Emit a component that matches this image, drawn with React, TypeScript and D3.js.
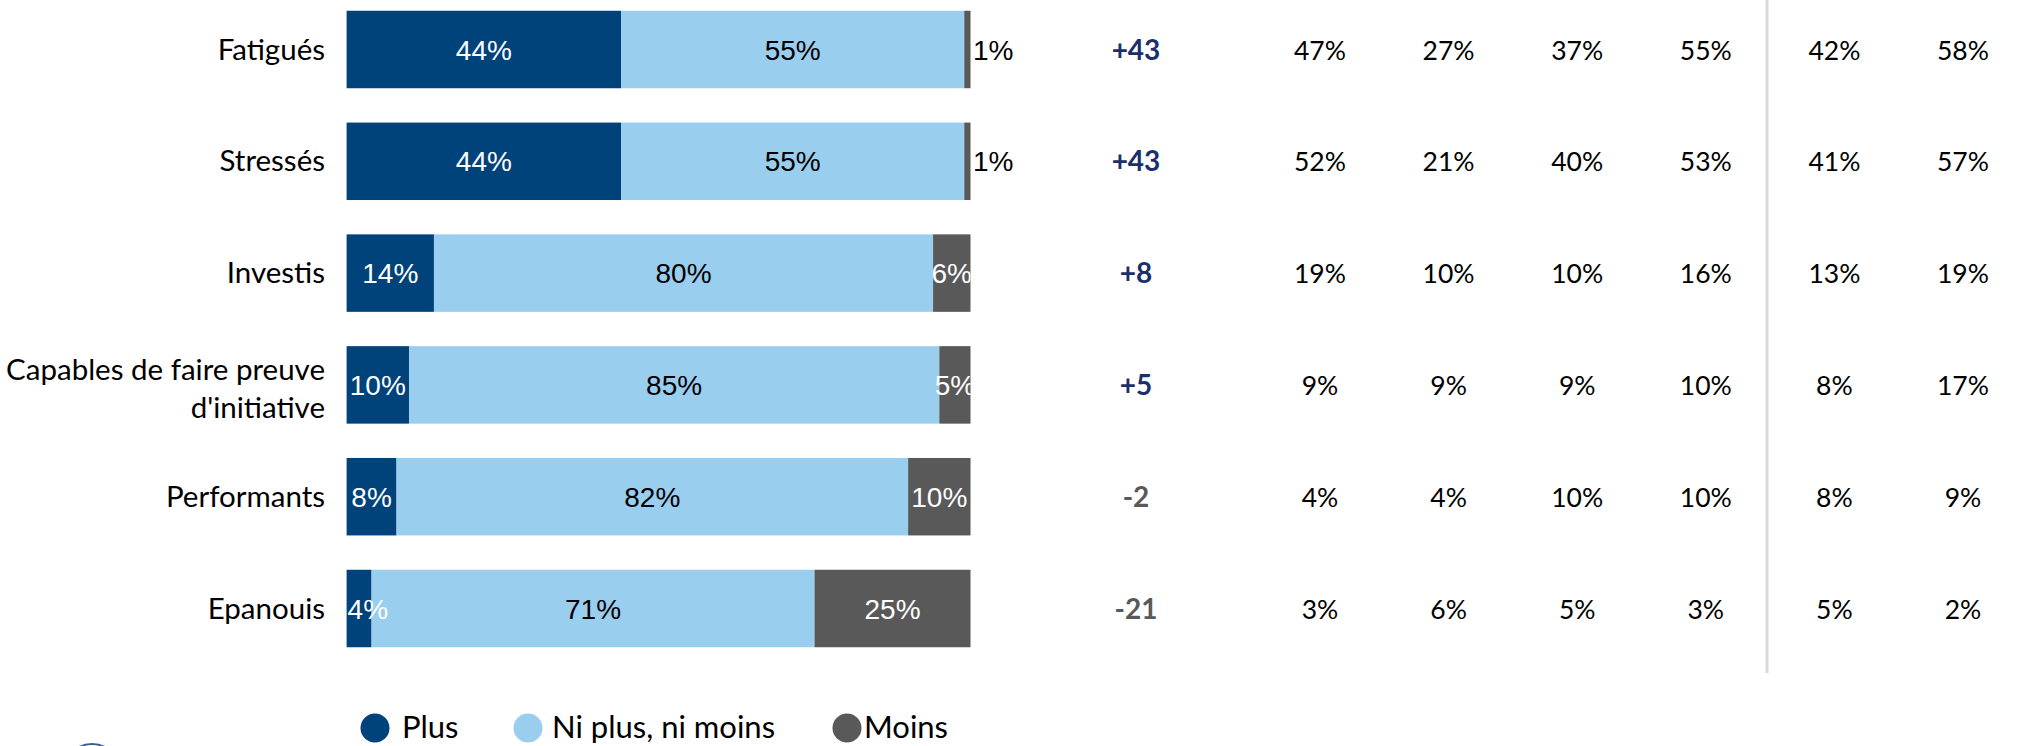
import React from "react";
import * as d3 from "d3";

const categories = [
  "Fatigués",
  "Stressés",
  "Investis",
  "Capables de faire preuve d'initiative",
  "Performants",
  "Epanouis",
];
const categoryLines: string[][] = [
  ["Fatigués"],
  ["Stressés"],
  ["Investis"],
  ["Capables de faire preuve", "d'initiative"],
  ["Performants"],
  ["Epanouis"],
];
const plus = [44, 44, 14, 10, 8, 4];
const neutral = [55, 55, 80, 85, 82, 71];
const moins = [1, 1, 6, 5, 10, 25];
const balance = ["+43", "+43", "+8", "+5", "-2", "-21"];
const col1 = ["47%", "52%", "19%", "9%", "4%", "3%"];
const col2 = ["27%", "21%", "10%", "9%", "4%", "6%"];
const col3 = ["37%", "40%", "10%", "9%", "10%", "5%"];
const col4 = ["55%", "53%", "16%", "10%", "10%", "3%"];
const col5 = ["42%", "41%", "13%", "8%", "8%", "5%"];
const col6 = ["58%", "57%", "19%", "17%", "9%", "2%"];
const seriesNames = ["Plus", "Ni plus, ni moins", "Moins"];

const COLORS = ["#00427A", "#99CEEF", "#595959"];
const LABEL_COLORS = ["#ffffff", "#000000", "#ffffff"];

export default function App() {
  const W = 2028;
  const H = 746;
  const x = d3.scaleLinear().domain([0, 100]).range([346.6, 970.5]);
  const y = d3
    .scaleBand<string>()
    .domain(categories)
    .range([-6.4, -6.4 + 6 * 111.8])
    .paddingInner(0.307)
    .paddingOuter(0.1535);

  const rows = categories.map((c, i) => ({
    cat: c,
    values: [plus[i], neutral[i], moins[i]],
  }));
  const stack = d3
    .stack<any>()
    .keys(["0", "1", "2"])
    .value((d: any, k: string) => d.values[+k]);
  const stacked = stack(rows as any);

  const cols = [col1, col2, col3, col4, col5, col6];
  const colX = d3.scalePoint<number>().domain([0, 1, 2, 3, 4, 5]).range([1320, 1963]);

  const catFont = "Lato, 'Open Sans', sans-serif";
  const barFont = "'Liberation Sans', Arial, sans-serif";

  return (
    <svg
      width={W}
      height={H}
      style={{ position: "absolute", left: 0, top: 0, background: "#fff" }}
    >
      <defs>
        <clipPath id="plotClip">
          <rect x={0} y={0} width={970.5} height={H} />
        </clipPath>
      </defs>
      <rect x={0} y={0} width={W} height={H} fill="#fff" />

      {/* bars */}
      {stacked.map((layer, si) =>
        layer.map((d, ri) => {
          const cat = categories[ri];
          const y0 = y(cat)!;
          return (
            <rect
              key={`b-${si}-${ri}`}
              x={x(d[0])}
              y={y0}
              width={x(d[1]) - x(d[0])}
              height={y.bandwidth()}
              fill={COLORS[si]}
            />
          );
        })
      )}

      {/* bar labels */}
      <g clipPath="url(#plotClip)">
        {stacked.map((layer, si) =>
          layer.map((d, ri) => {
            const cat = categories[ri];
            const cy = y(cat)! + y.bandwidth() / 2;
            const v = d[1] - d[0];
            if (v <= 2) return null;
            const tw = (String(v).length * 0.556 + 0.889) * 28;
            let cx = (x(d[0]) + x(d[1])) / 2;
            if (cx - tw / 2 < x(0) + 1) cx = x(0) + 1 + tw / 2;
            return (
              <text
                key={`l-${si}-${ri}`}
                x={cx}
                y={cy + 10}
                textAnchor="middle"
                fontFamily={barFont}
                fontSize={28}
                fill={LABEL_COLORS[si]}
              >
                {v}%
              </text>
            );
          })
        )}
      </g>
      {stacked.map((layer, si) =>
        layer.map((d, ri) => {
          const cat = categories[ri];
          const cy = y(cat)! + y.bandwidth() / 2;
          const v = d[1] - d[0];
          if (v > 2) return null;
          return (
            <text
              key={`o-${si}-${ri}`}
              x={x(d[1]) + 2.5}
              y={cy + 10}
              textAnchor="start"
              fontFamily={barFont}
              fontSize={28}
              fill="#000"
            >
              {v}%
            </text>
          );
        })
      )}

      {/* category labels */}
      {categoryLines.map((lines, i) => {
        const cy = y(categories[i])! + y.bandwidth() / 2;
        const lh = 38;
        const startY = cy + 10 - ((lines.length - 1) * lh) / 2 + (lines.length > 1 ? 4 : 0);
        return (
          <text
            key={`c-${i}`}
            x={325}
            textAnchor="end"
            fontFamily={catFont}
            fontSize={29.5}
            fill="#000"
          >
            {lines.map((ln, j) => (
              <tspan key={j} x={325} y={startY + j * lh}>
                {ln}
              </tspan>
            ))}
          </text>
        );
      })}

      {/* balance */}
      {balance.map((b, i) => {
        const cy = y(categories[i])! + y.bandwidth() / 2;
        return (
          <text
            key={`bal-${i}`}
            x={1136}
            y={cy + 10}
            textAnchor="middle"
            fontFamily={catFont}
            fontWeight="bold"
            fontSize={28}
            fill={b.startsWith("+") ? "#1B2F6B" : "#595959"}
          >
            {b}
          </text>
        );
      })}

      {/* value columns */}
      {cols.map((col, ci) =>
        col.map((v, i) => {
          const cy = y(categories[i])! + y.bandwidth() / 2;
          return (
            <text
              key={`v-${ci}-${i}`}
              x={colX(ci)}
              y={cy + 10}
              textAnchor="middle"
              fontFamily={catFont}
              fontSize={26.5}
              fill="#000"
            >
              {v}
            </text>
          );
        })
      )}

      {/* divider */}
      <line x1={1767} x2={1767} y1={0} y2={673} stroke="#D9D9D9" strokeWidth={3} />

      {/* legend */}
      {seriesNames.map((n, i) => {
        const cxs = [375, 528, 847];
        const txs = [402, 552, 864];
        return (
          <g key={`leg-${i}`}>
            <circle cx={cxs[i]} cy={728} r={14.5} fill={COLORS[i]} />
            <text
              x={txs[i]}
              y={738}
              fontFamily={catFont}
              fontSize={31}
              fill="#000"
            >
              {n}
            </text>
          </g>
        );
      })}

      {/* partial logo at bottom */}
      <circle cx={92} cy={772} r={28} fill="none" stroke="#3d5f96" strokeWidth={2} />
    </svg>
  );
}
